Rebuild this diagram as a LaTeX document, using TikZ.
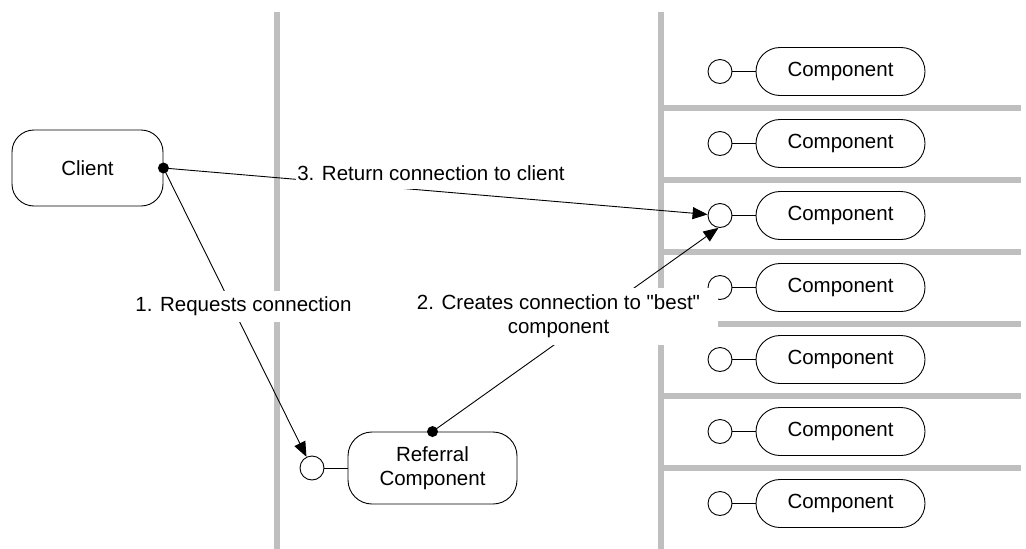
\documentclass[tikz,border=0pt]{standalone}
\usepackage{fontspec}
\setmainfont{Liberation Sans}[Ligatures=TeXOff]
\usetikzlibrary{arrows.meta}

\begin{document}
\begin{tikzpicture}[x=1pt,y=-1pt,
		every node/.style={font=\fontsize{20.5}{24.6}\selectfont},
		box/.style={draw, line width=0.9pt, rounded corners=22pt, minimum width=151pt, minimum height=76pt, inner sep=0pt},
		comp/.style={draw, line width=0.9pt, rounded corners=24pt, minimum width=169pt, minimum height=48pt, inner sep=0pt},
		port/.style={draw, circle, line width=0.9pt, minimum size=24pt, inner sep=0pt, fill=white},
		wall/.style={line width=6pt, black!25},
		link/.style={line width=0.9pt},
		call/.style={line width=0.9pt, -{Triangle[length=15pt,width=12pt]}},
		lbl/.style={fill=white, inner sep=0pt}]
			\useasboundingbox (0,0) rectangle (1026,549);

			% walls
			\draw [wall] (277,12) -- (277,549) ;
			\draw [wall] (661,12) -- (661,549) ;
			\draw [wall] (661,107.5) -- (1021,107.5) ;
			\draw [wall] (661,179.5) -- (1021,179.5) ;
			\draw [wall] (661,251.5) -- (1021,251.5) ;
			\draw [wall] (661,323.5) -- (1021,323.5) ;
			\draw [wall] (661,395.5) -- (1021,395.5) ;
			\draw [wall] (661,467.5) -- (1021,467.5) ;

			% client and referral
			\node [box] (client) at (87.5,168) {Client} ;
			\node [box, minimum width=169pt, minimum height=72pt, rounded corners=24pt, align=center] (referral) at (432.5,468) {Referral\\Component} ;
			\node [port] (rp) at (312,468) {} ;
			\draw [link] (rp) -- (referral) ;

			% components
			\node [comp] (c1) at (840.5,71.5) {Component} ;
			\node [comp] (c2) at (840.5,143.5) {Component} ;
			\node [comp] (c3) at (840.5,215.5) {Component} ;
			\node [comp] (c4) at (840.5,287.5) {Component} ;
			\node [comp] (c5) at (840.5,359.5) {Component} ;
			\node [comp] (c6) at (840.5,431.5) {Component} ;
			\node [comp] (c7) at (840.5,503.5) {Component} ;
			\node [port] (p1) at (720,71.5) {} ;
			\node [port] (p2) at (720,143.5) {} ;
			\node [port] (p3) at (720,215.5) {} ;
			\node [port] (p4) at (720,287.5) {} ;
			\node [port] (p5) at (720,359.5) {} ;
			\node [port] (p6) at (720,431.5) {} ;
			\node [port] (p7) at (720,503.5) {} ;
			\draw [link] (p1) -- (c1) ;
			\draw [link] (p2) -- (c2) ;
			\draw [link] (p3) -- (c3) ;
			\draw [link] (p4) -- (c4) ;
			\draw [link] (p5) -- (c5) ;
			\draw [link] (p6) -- (c6) ;
			\draw [link] (p7) -- (c7) ;

			% calls
			\draw [call] (client.east) -- (rp) ;
			\draw [call] (client.east) -- (p3) ;
			\draw [call] (referral.north) -- (p3.-97) ;
			\fill (client.east) circle [radius=5.5pt] ;
			\fill (referral.north) circle [radius=5.5pt] ;

			% call labels
			\node [lbl, inner xsep=4pt, inner ysep=6pt, text height=15pt, text depth=4.3pt] (ask) at (243.5,306.3) {1. Requests connection} ;
			\node [lbl, inner xsep=18pt, inner ysep=6.5pt, align=center] (make) at (558.5,316.3) {2. Creates connection to "best"\\component} ;
			\node [lbl, inner xsep=1pt, inner ysep=4pt, text height=15pt, text depth=4.3pt] (back) at (431,175.6) {3. Return connection to client} ;
		\end{tikzpicture}
\end{document}
